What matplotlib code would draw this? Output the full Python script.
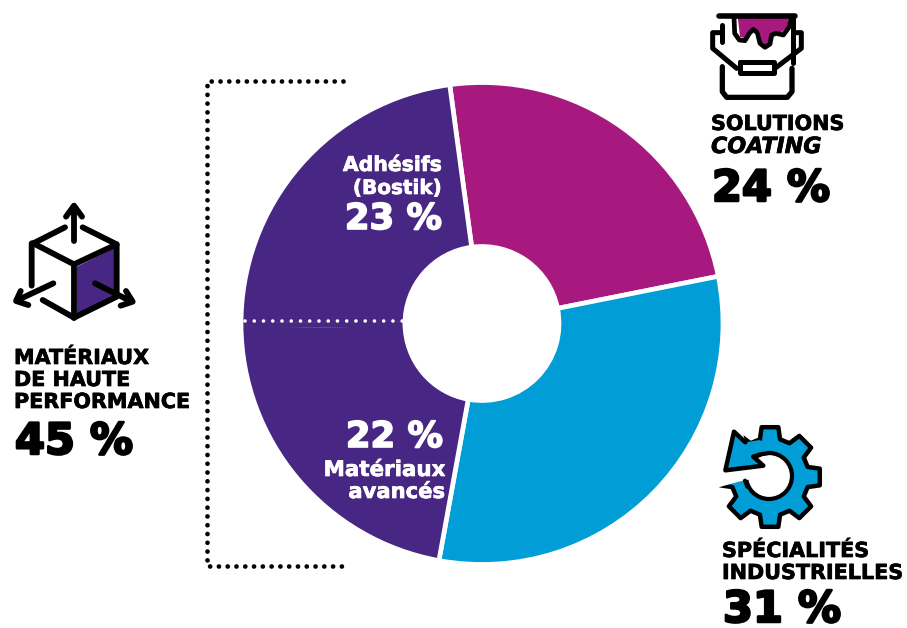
import numpy as np
import matplotlib
matplotlib.use("Agg")
import matplotlib.pyplot as plt
from matplotlib.patches import Polygon, Circle
import matplotlib.patheffects as pe

W, H = 907, 628
shares = [24, 31, 22, 23]
colors = ["#A8197F", "#009DD6", "#482683", "#482683"]
ink = "#000000"
plt.rcParams["font.family"] = ["DejaVu Sans"]

fig = plt.figure(figsize=(W / 100, H / 100), dpi=100)
ax = fig.add_axes([0, 0, 1, 1])


def Y(py):
    return H - py


def P(points):
    return [(x, Y(y)) for x, y in points]


# Donut: page coordinates with the origin at the bottom left
cx, cy, r_out, r_in = 482, Y(323.5), 241, 77
start = 97.7
ax.pie(shares, colors=colors, startangle=start, counterclock=False,
       center=(cx, cy), radius=r_out, frame=True,
       wedgeprops=dict(width=r_out - r_in, edgecolor="white", linewidth=3.4))
# Hide the seam between the two purple sectors, then dot it
theta = np.radians(start - 3.6 * sum(shares[:3]))
ax.plot([cx + 79.5 * np.cos(theta), cx + 238.6 * np.cos(theta)],
        [cy + 79.5 * np.sin(theta), cy + 238.6 * np.sin(theta)],
        color=colors[2], lw=4, solid_capstyle="butt", zorder=3)
ax.plot([245, 403], [Y(321), Y(321)], color="white", lw=2.6,
        linestyle=(0, (0.01, 2.55)), dash_capstyle="round", zorder=4)

# Bracket around the high-performance materials
ax.plot([343, 207, 207, 343], [Y(81), Y(81), Y(566), Y(566)], color=ink, lw=3.4,
        linestyle=(0, (0.01, 1.85)), dash_capstyle="round")


def label(x, y, s, size, color=ink, ha="left", style="normal", stroke=0.5):
    t = ax.text(x, Y(y), s, fontsize=size, color=color, ha=ha, va="baseline",
                fontweight="bold", fontstyle=style, zorder=6)
    t.set_path_effects([pe.withStroke(linewidth=stroke, foreground=color)])
    return t


head = 14.9
big = 31
mid = 25.5

label(711, 130, "SOLUTIONS", head)
label(711, 153, "COATING", 16, style="italic")
label(712, 201, "24 %", big, stroke=1.8)

label(14, 364, "MATÉRIAUX", head)
label(14, 386, "DE HAUTE", head)
label(14, 408, "PERFORMANCE", head)
label(15, 454, "45 %", big, stroke=1.8)

label(722, 557, "SPÉCIALITÉS", head)
label(722, 579, "INDUSTRIELLES", head)
label(723, 622, "31 %", big, stroke=1.8)

label(442, 171, "Adhésifs", 14.7, "white", "right")
label(442, 194, "(Bostik)", 14.4, "white", "right")
label(442, 229, "23 %", mid, "white", "right", stroke=1.2)
label(443, 447, "22 %", mid, "white", "right", stroke=1.2)
label(445, 476, "Matériaux", 15.4, "white", "right")
label(445, 498, "avancés", 15.2, "white", "right")


def stroke(points, lw=3.6, color=ink, z=7):
    xs, ys = zip(*P(points))
    ax.plot(xs, ys, color=color, lw=lw, solid_capstyle="round", solid_joinstyle="round", zorder=z)


def fill(points, color, z=6, ec="none", lw=0):
    ax.add_patch(Polygon(P(points), closed=True, fc=color, ec=ec, lw=lw, zorder=z,
                         joinstyle="round"))


# Paint bucket icon
def bucket(zx, zy):
    return (700 + zx / 3, zy / 3)


fill([bucket(*p) for p in [(113, 50), (268, 50), (262, 80), (245, 97), (225, 95), (212, 105),
                           (208, 130), (195, 135), (185, 125), (178, 95), (160, 82), (145, 95),
                           (135, 115), (120, 110)]], colors[0])
stroke([bucket(58, 47), bucket(285, 47)], lw=4)
curve = [(102, 50), (104, 100), (118, 120), (135, 122), (148, 100), (160, 88), (172, 98),
         (180, 130), (195, 142), (210, 132), (215, 105), (228, 100), (250, 105), (268, 80), (275, 50)]
stroke([bucket(*p) for p in curve], lw=3.4)
stroke([bucket(*p) for p in [(67, 75), (67, 125)]])
stroke([bucket(*p) for p in [(278, 55), (278, 190)]])
stroke([bucket(*p) for p in [(60, 98), (38, 98), (38, 145), (110, 205)]])
stroke([bucket(*p) for p in [(285, 98), (304, 98), (304, 145), (225, 205)]])
stroke([bucket(*p) for p in [(120, 187), (222, 187), (222, 218), (120, 218), (120, 187)]])
stroke([bucket(*p) for p in [(67, 200), (67, 275), (80, 292), (262, 292), (276, 275), (276, 205)]], lw=3.8)


# 3D cube icon
def cube(zx, zy):
    return (zx / 3, 195 + zy / 3)


fill([cube(*p) for p in [(230, 215), (342, 160), (342, 302), (230, 358)]], colors[2])
stroke([cube(*p) for p in [(195, 97), (100, 145), (95, 145), (95, 272)]], lw=4.2)
stroke([cube(*p) for p in [(248, 97), (350, 148), (350, 305), (222, 368), (128, 315)]], lw=4.2)
stroke([cube(*p) for p in [(100, 145), (222, 208), (350, 148)]], lw=4.2)
stroke([cube(*p) for p in [(222, 208), (222, 368)]], lw=4.2)
stroke([cube(*p) for p in [(222, 138), (222, 45)]], lw=4.2)
stroke([cube(*p) for p in [(198, 65), (222, 32), (246, 65)]], lw=4.2)
stroke([cube(*p) for p in [(160, 265), (60, 312)]], lw=4.2)
stroke([cube(*p) for p in [(62, 288), (48, 318), (85, 330)]], lw=4.2)
stroke([cube(*p) for p in [(285, 265), (385, 315)]], lw=4.2)
stroke([cube(*p) for p in [(378, 288), (398, 320), (362, 332)]], lw=4.2)


# Gear icon with a circular arrow
gx, gy = 770, 477
angles, radii = [], []
for k in range(8):
    centre = 90 + k * 45
    angles += [centre - 15, centre - 9.5, centre + 9.5, centre + 15]
    radii += [39, 50.5, 50.5, 39]
a = np.radians(angles)
gear = [(gx + r * np.cos(t), gy - r * np.sin(t)) for r, t in zip(radii, a)]
fill(gear, colors[1], ec=ink, lw=3.2)
ax.add_patch(Circle((gx - 1, Y(gy - 1)), 23, fc="white", ec=ink, lw=3, zorder=7))


def gz(zx, zy):
    return (710 + zx / 3, 415 + zy / 3)


# White area opens the ring and removes the teeth on the left side
fill([gz(*p) for p in [(0, 0), (85, 0), (106, 82), (130, 125), (165, 155), (170, 185),
                       (98, 197), (43, 212), (0, 225)]], "white", z=7.5)
fill([gz(*p) for p in [(72, 50), (106, 82), (150, 75), (177, 100), (177, 114), (150, 118),
                       (130, 125), (160, 152), (46, 166)]], colors[1], z=8)
stroke([gz(*p) for p in [(106, 82), (72, 50), (46, 166), (160, 152), (130, 125)]], lw=3.2, z=9)
stroke([gz(*p) for p in [(130, 125), (150, 118), (177, 114)]], lw=3, z=9)
stroke([gz(*p) for p in [(105, 197), (112, 215)]], lw=3, z=9)

ax.set_xlim(0, W)
ax.set_ylim(0, H)
ax.axis("off")
fig.savefig("out.png", dpi=100, facecolor="white")
